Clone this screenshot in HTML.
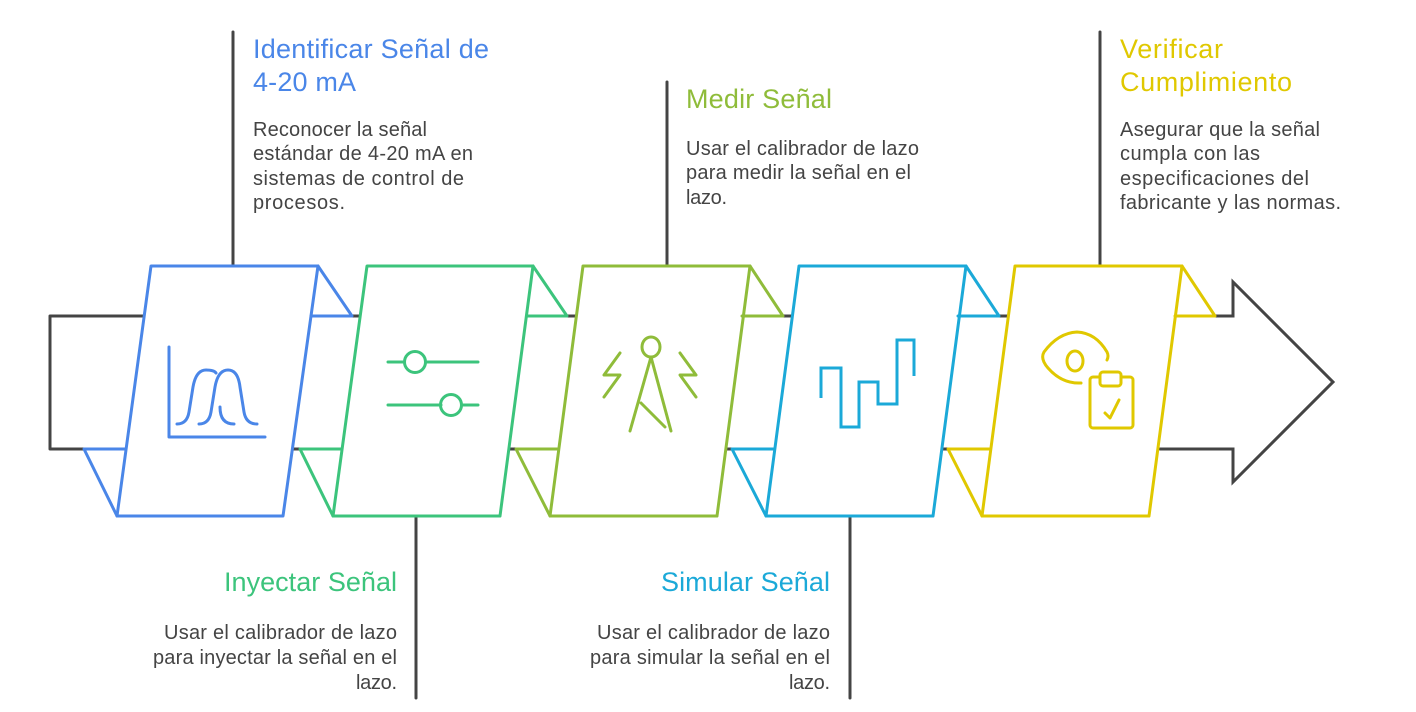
<!DOCTYPE html>
<html><head><meta charset="utf-8"><style>
html,body{margin:0;padding:0;background:#fff}
svg{display:block}
text{font-family:"Liberation Sans",sans-serif}
.t{font-size:27px}
.d{font-size:20px;fill:#444}
</style></head><body>
<svg width="1416" height="712" viewBox="0 0 1416 712" xmlns="http://www.w3.org/2000/svg" fill="none" stroke-width="3" stroke-linejoin="round" stroke-linecap="round">
<g stroke="#444">
<polyline points="143,316 50,316 50,449 84,449"/>
<line x1="352" y1="316" x2="362" y2="316"/><line x1="290" y1="449" x2="300" y2="449"/>
<line x1="567" y1="316" x2="578" y2="316"/><line x1="506" y1="449" x2="516" y2="449"/>
<line x1="783" y1="316" x2="794" y2="316"/><line x1="722" y1="449" x2="732" y2="449"/>
<line x1="999" y1="316" x2="1010" y2="316"/><line x1="938" y1="449" x2="948" y2="449"/>
<polyline points="1215,316 1233,316 1233,282 1333,382 1233,482 1233,449 1160,449" stroke-linejoin="miter"/>
<line x1="233" y1="32" x2="233" y2="266"/>
<line x1="416" y1="516" x2="416" y2="698"/>
<line x1="667" y1="82" x2="667" y2="266"/>
<line x1="850" y1="516" x2="850" y2="698"/>
<line x1="1100" y1="32" x2="1100" y2="266"/>
</g>
<g stroke="#4a86e8">
<polygon points="151,266 318,266 283,516 117,516" fill="#fff"/>
<polyline points="318,266 352,316 311,316"/>
<polyline points="125,449 84,449 117,516"/>
<path d="M169,347 V437 H265 M177,424 q10,0 12,-12 l4,-25 q3,-17 13,-17 q8,0 10,3 M199,424 q10,0 12,-12 l4,-25 q3,-17 13,-17 q10,0 12,17 l4,25 q2,12 13,12 M220,407 q0,17 14,17"/>
</g>
<g stroke="#3cc47c">
<polygon points="367,266 533,266 500,516 333,516" fill="#fff"/>
<polyline points="533,266 567,316 527,316"/>
<polyline points="341,449 300,449 333,516"/>
<path d="M388,362 H404 M426,362 H478 M388,405 H441 M462,405 H478"/>
<circle cx="415" cy="362" r="10.5"/><circle cx="451" cy="405" r="10.5"/>
</g>
<g stroke="#8fbc3a">
<polygon points="583,266 750,266 717,516 550,516" fill="#fff"/>
<polyline points="750,266 783,316 742,316"/>
<polyline points="557,449 516,449 550,516"/>
<ellipse cx="651" cy="347" rx="9" ry="10"/>
<path d="M651,357 L630,431 M651,357 L671,431 M641,403 L665,427 M620,353 L604,375 H620 L604,397 M680,353 L696,375 H680 L696,397"/>
</g>
<g stroke="#1ba9d8">
<polygon points="799,266 966,266 933,516 766,516" fill="#fff"/>
<polyline points="966,266 999,316 958,316"/>
<polyline points="773,449 732,449 766,516"/>
<polyline points="821,398 821,368 841,368 841,427 859,427 859,382 878,382 878,404 897,404 897,340 914,340 914,376" stroke-linejoin="miter" stroke-linecap="butt"/>
</g>
<g stroke="#e0c800">
<polygon points="1015,266 1182,266 1149,516 982,516" fill="#fff"/>
<polyline points="1182,266 1215,316 1175,316"/>
<polyline points="989,449 948,449 982,516"/>
<path d="M1081,383 Q1062,384 1048,368 Q1040,359 1044,352 Q1058,333 1077,332 Q1096,333 1107,352 Q1109,356 1107,360"/>
<ellipse cx="1075" cy="361" rx="8" ry="10"/>
<rect x="1090" y="377" width="43" height="51" rx="3"/>
<rect x="1100" y="372" width="21" height="14" rx="3" fill="#fff"/>
<path d="M1105,413 l5,5 l9,-18"/>
</g>
<text class="t" fill="#4a86e8" x="253" y="58" textLength="236">Identificar Señal de</text>
<text class="t" fill="#4a86e8" x="253" y="91" textLength="103">4-20 mA</text>
<g class="d"><text x="253" y="136" textLength="174">Reconocer la señal</text><text x="253" y="160" textLength="220">estándar de 4-20 mA en</text><text x="253" y="185" textLength="211">sistemas de control de</text><text x="253" y="209" textLength="92">procesos.</text></g>

<text class="t" fill="#3cc47c" x="224" y="591" textLength="173">Inyectar Señal</text>
<g class="d"><text x="164" y="639" textLength="233">Usar el calibrador de lazo</text><text x="153" y="664" textLength="244">para inyectar la señal en el</text><text x="356" y="689" textLength="41">lazo.</text></g>

<text class="t" fill="#8fbc3a" x="686" y="108" textLength="146">Medir Señal</text>
<g class="d"><text x="686" y="155" textLength="233">Usar el calibrador de lazo</text><text x="686" y="179" textLength="225">para medir la señal en el</text><text x="686" y="204" textLength="41">lazo.</text></g>

<text class="t" fill="#1ba9d8" x="661" y="591" textLength="169">Simular Señal</text>
<g class="d"><text x="597" y="639" textLength="233">Usar el calibrador de lazo</text><text x="590" y="664" textLength="240">para simular la señal en el</text><text x="789" y="689" textLength="41">lazo.</text></g>

<text class="t" fill="#e0c800" x="1120" y="58" textLength="103">Verificar</text>
<text class="t" fill="#e0c800" x="1120" y="91" textLength="172">Cumplimiento</text>
<g class="d"><text x="1120" y="136" textLength="200">Asegurar que la señal</text><text x="1120" y="160" textLength="140">cumpla con las</text><text x="1120" y="185" textLength="189">especificaciones del</text><text x="1120" y="209" textLength="221">fabricante y las normas.</text></g>
</svg>
</body></html>
